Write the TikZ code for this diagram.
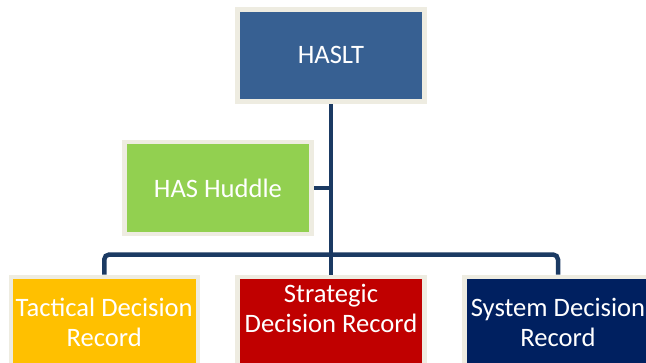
\documentclass[tikz,border=0pt]{standalone}
\usepackage{fontspec}
\setmainfont{Carlito}
\usetikzlibrary{backgrounds}
\definecolor{hasblue}{RGB}{55,96,146}
\definecolor{hasgreen}{RGB}{146,208,80}
\definecolor{tactyellow}{RGB}{255,192,0}
\definecolor{stratred}{RGB}{192,0,0}
\definecolor{sysnavy}{RGB}{0,32,96}
\definecolor{rimbeige}{RGB}{238,236,225}
\definecolor{linkblue}{RGB}{27,58,99}
\begin{document}
\begin{tikzpicture}[x=1pt,y=1pt,yscale=-1,xscale=1,
  unit/.style={draw=rimbeige, line width=4.5pt, minimum width=187pt, minimum height=92pt,
    inner sep=0pt, text=white, align=center, font=\fontsize{26.6}{30}\selectfont},
  link/.style={draw=linkblue, line width=4.5pt}]
\useasboundingbox (0,0) rectangle (646,362);

%Shape: Rectangle [HASLT]
\node[unit, fill=hasblue] (haslt) at (331,55.25) {HASLT};
%Shape: Rectangle [HAS Huddle]
\node[unit, fill=hasgreen] (huddle) at (218,188) {HAS Huddle};
%Shape: Rectangle [records]
\node[unit, fill=tactyellow, anchor=north] (tactical) at (104.25,274.5) {Tactical Decision\\Record};
\node[unit, fill=stratred, anchor=north, text depth=28pt] (strategic) at (331,274.5) {Strategic\\Decision Record};
\node[unit, fill=sysnavy, anchor=north] (system) at (558,274.5) {System Decision\\Record};

%Straight Lines [connectors]
\begin{pgfonlayer}{background}
\draw[link] (haslt.south) -- (strategic.north);
\draw[link] (huddle.east) -- (huddle.east -| haslt.south);
\draw[link, rounded corners=5pt] (tactical.north) |- ([yshift=-20pt]strategic.north) -| (system.north);
\end{pgfonlayer}

\end{tikzpicture}
\end{document}
